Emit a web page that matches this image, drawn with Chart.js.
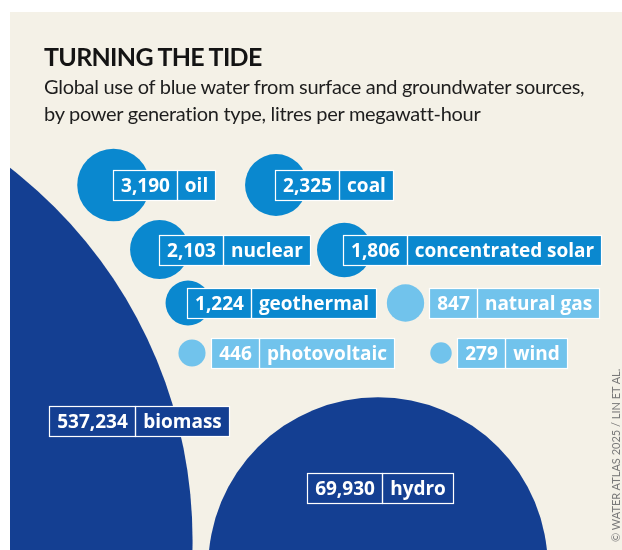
<!DOCTYPE html>
<html>
<head>
<meta charset="utf-8">
<script src="https://cdn.jsdelivr.net/npm/chart.js@4.4.1/dist/chart.umd.min.js"></script>
<style>
html, body { margin: 0; padding: 0; background: #fff; }
body { width: 622px; height: 550px; position: relative; overflow: hidden; }
#panel { position: absolute; left: 10px; top: 12px; width: 612px; height: 538px; background: #f4f1e7; }
#panel canvas { position: absolute; left: 0; top: 0; }
.title { position: absolute; left: 34px; top: 29px; font: 700 25px/30px Lato, sans-serif; color: #141414; letter-spacing: -0.7px; white-space: nowrap; z-index: 2; }
.sub { position: absolute; left: 34px; top: 61px; font: 400 20px/26.5px Lato, sans-serif; color: #1e1e1e; letter-spacing: -0.3px; white-space: nowrap; z-index: 2; }
.credit { position: absolute; left: 600px; top: 530px; transform-origin: 0 0; transform: rotate(-90deg); font: 400 11px/12px Lato, sans-serif; color: #7a7a7a; white-space: nowrap; z-index: 2; }
</style>
</head>
<body>
<div id="panel">
  <canvas id="bubbles" width="612" height="538"></canvas>
  <div class="title">TURNING THE TIDE</div>
  <div class="sub">Global use of blue water from surface and groundwater sources,<br>by power generation type, litres per megawatt-hour</div>
  <div class="credit">© WATER ATLAS 2025 / LIN ET AL.</div>
</div>
<script>
// data
const categories = ['biomass', 'hydro', 'oil', 'coal', 'nuclear', 'concentrated solar', 'geothermal', 'natural gas', 'photovoltaic', 'wind'];
const litresPerMWh = [537234, 69930, 3190, 2325, 2103, 1806, 1224, 847, 446, 279];

// layout of the bubble cloud (panel units) and styling
const posX = [-288, 368, 103.5, 266, 149.5, 334.3, 178, 395.5, 182, 431];
const posY = [528, 555, 173, 173, 237.5, 238, 291, 291, 341, 341];
const dark = '#143f92', mid = '#0a88cf', light = '#71c3ec';
const colours = [dark, dark, mid, mid, mid, mid, mid, light, light, light];
const labelMode = ['start', 'center', 'start', 'start', 'start', 'start', 'start', 'after', 'after', 'after'];
const labelShift = [[328, -119.5], [2, -79.5], [0, 0], [0, 0], [0, 0], [0, 0], [0, 0], [0, 0], [0, 0], [0, 0]];
const radiusPerSqrtLitre = 0.642;

const boxLabels = {
    id: 'boxLabels',
    afterDatasetsDraw(chart) {
        const c = chart.ctx;
        const pts = chart.getDatasetMeta(0).data;
        const pad = 7.5, boxH = 30;
        c.save();
        c.font = '700 19px "Open Sans", sans-serif';
        c.textBaseline = 'middle';
        c.textAlign = 'center';
        pts.forEach((pt, i) => {
            const num = litresPerMWh[i].toLocaleString('en-US');
            const name = categories[i];
            const w1 = Math.round(c.measureText(num).width + 2 * pad);
            const w2 = Math.round(c.measureText(name).width + 2 * pad);
            const r = pt.options.radius;
            let left;
            if (labelMode[i] === 'after') left = pt.x + r + 5;
            else if (labelMode[i] === 'center') left = pt.x - (w1 + w2) / 2;
            else left = pt.x - 1;
            left = Math.round(left + labelShift[i][0]) + 0.5;
            const cy = pt.y + labelShift[i][1];
            const top = Math.round(cy - boxH / 2) + 0.5;
            c.fillStyle = colours[i];
            c.fillRect(left, top, w1 + w2, boxH);
            c.strokeStyle = '#ffffff';
            c.lineWidth = 1.2;
            c.strokeRect(left, top, w1, boxH);
            c.strokeRect(left + w1, top, w2, boxH);
            c.fillStyle = '#ffffff';
            c.fillText(num, left + w1 / 2, top + boxH / 2 + 1);
            c.fillText(name, left + w1 + w2 / 2, top + boxH / 2 + 1);
        });
        c.restore();
    }
};

const ctx = document.getElementById('bubbles');
new Chart(ctx, {
    type: 'bubble',
    data: {
        datasets: [{
            data: categories.map((cat, i) => ({
                x: posX[i],
                y: posY[i],
                r: radiusPerSqrtLitre * Math.sqrt(litresPerMWh[i])
            })),
            backgroundColor: colours,
            borderWidth: 0,
            hoverRadius: 0,
            clip: false
        }]
    },
    options: {
        responsive: false,
        animation: false,
        events: [],
        layout: { padding: 0, autoPadding: false },
        plugins: {
            legend: { display: false },
            tooltip: { enabled: false }
        },
        scales: {
            x: { type: 'linear', min: 0, max: 612, display: false },
            y: { type: 'linear', min: 0, max: 538, reverse: true, display: false }
        }
    },
    plugins: [boxLabels]
});
</script>
</body>
</html>
